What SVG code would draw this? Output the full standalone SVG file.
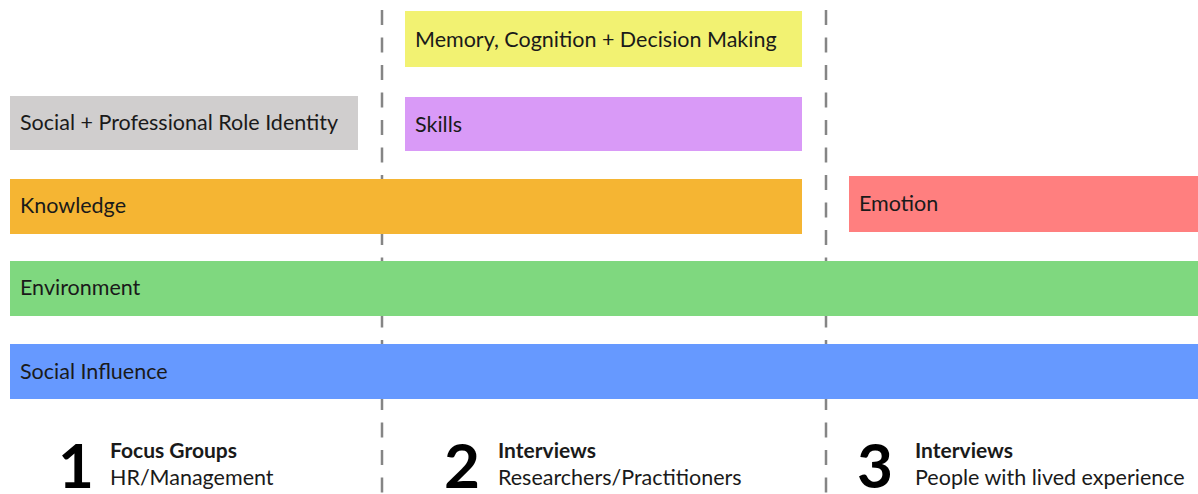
<svg xmlns="http://www.w3.org/2000/svg" width="1198" height="494" viewBox="0 0 1198 494">
  <style>
    .lbl { font-family: Lato, "Liberation Sans", sans-serif; font-size: 21.5px; fill: #1a1a1a; }
    .num { font-family: Lato, "Liberation Sans", sans-serif; font-size: 62px; font-weight: 700; fill: #000; }
    .head { font-family: Lato, "Liberation Sans", sans-serif; font-size: 21px; font-weight: 700; fill: #1a1a1a; }
    .sub { font-family: Lato, "Liberation Sans", sans-serif; font-size: 21.5px; fill: #1a1a1a; }
    .divider { stroke: #858585; stroke-width: 2.5; stroke-dasharray: 15 12.5; }
  </style>
  <rect width="1198" height="494" fill="#ffffff"/>

  <!-- phase dividers -->
  <g id="connectors">
    <line class="divider" x1="382" y1="10" x2="382" y2="494"/>
    <line class="divider" x1="826" y1="10" x2="826" y2="494"/>
  </g>

  <g id="memory">
    <rect x="405" y="11" width="397" height="56" fill="#f2f272"/>
    <text class="lbl" x="415" y="47">Memory, Cognition + Decision Making</text>
  </g>
  <g id="skills">
    <rect x="405" y="97" width="397" height="54" fill="#d99af7"/>
    <text class="lbl" x="415" y="132">Skills</text>
  </g>
  <g id="role-identity">
    <rect x="10" y="96" width="348" height="54" fill="#d0cece"/>
    <text class="lbl" x="20" y="130">Social + Professional Role Identity</text>
  </g>
  <g id="knowledge">
    <rect x="10" y="179" width="792" height="55" fill="#f5b533"/>
    <text class="lbl" x="20" y="213">Knowledge</text>
  </g>
  <g id="emotion">
    <rect x="849" y="176" width="349" height="56" fill="#ff7f7f"/>
    <text class="lbl" x="859" y="211">Emotion</text>
  </g>
  <g id="environment">
    <rect x="10" y="261" width="1188" height="55" fill="#7fd87f"/>
    <text class="lbl" x="20" y="295">Environment</text>
  </g>
  <g id="social-influence">
    <rect x="10" y="344" width="1188" height="55" fill="#6699ff"/>
    <text class="lbl" x="20" y="379">Social Influence</text>
  </g>

  <!-- study phases -->
  <g id="phase-1">
    <text class="num" x="58" y="488">1</text>
    <text class="head" x="110" y="458">Focus Groups</text>
    <text class="sub" x="110" y="485">HR/Management</text>
  </g>
  <g id="phase-2">
    <text class="num" x="444" y="488">2</text>
    <text class="head" x="498" y="458">Interviews</text>
    <text class="sub" x="498" y="485">Researchers/Practitioners</text>
  </g>
  <g id="phase-3">
    <text class="num" x="857" y="488">3</text>
    <text class="head" x="915" y="458">Interviews</text>
    <text class="sub" x="915" y="485">People with lived experience</text>
  </g>
</svg>
